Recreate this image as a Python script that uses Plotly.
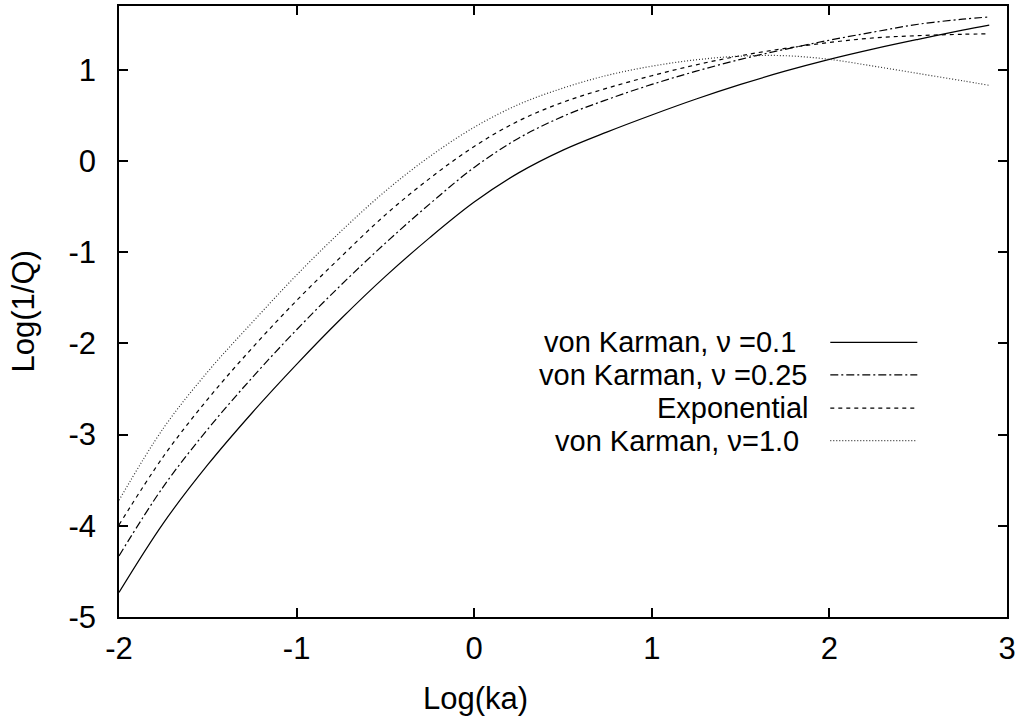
import plotly.graph_objects as go

# ---- data ----
log_ka = [-2.0, -1.75, -1.5, -1.25, -1.0, -0.75, -0.5, -0.25, 0.0, 0.25, 0.5,
          0.75, 1.0, 1.25, 1.5, 1.75, 2.0, 2.25, 2.5, 2.75, 2.9]
vk_01 = [-4.73, -3.97, -3.33, -2.76, -2.23, -1.73, -1.265, -0.84, -0.45, -0.13, 0.12,
         0.32, 0.505, 0.68, 0.84, 0.985, 1.115, 1.23, 1.335, 1.435, 1.49]
vk_025 = [-4.33, -3.57, -2.94, -2.375, -1.85, -1.36, -0.90, -0.47, -0.07, 0.25, 0.49,
          0.675, 0.84, 0.985, 1.115, 1.225, 1.325, 1.415, 1.50, 1.555, 1.58]
expo = [-3.99, -3.24, -2.61, -2.05, -1.53, -1.05, -0.59, -0.19, 0.16, 0.44, 0.645,
        0.80, 0.935, 1.055, 1.155, 1.235, 1.30, 1.35, 1.375, 1.39, 1.395]
vk_10 = [-3.72, -2.93, -2.31, -1.77, -1.25, -0.77, -0.33, 0.05, 0.37, 0.62, 0.80,
         0.94, 1.04, 1.11, 1.15, 1.155, 1.115, 1.04, 0.96, 0.88, 0.83]

series_names = ["von Karman, \u03bd =0.1", "von Karman, \u03bd =0.25",
                "Exponential", "von Karman, \u03bd=1.0"]
series_values = [vk_01, vk_025, expo, vk_10]
series_dash = ["solid", "8px,3px,2px,3px", "4px,4px", "1px,2px"]
series_color = ["#000000", "#000000", "#000000", "#333333"]

x_tickvals = [-2, -1, 0, 1, 2, 3]
x_ticktext = ["-2", "-1", "0", "1", "2", "3"]
y_tickvals = [-5, -4, -3, -2, -1, 0, 1]
y_ticktext = ["-5", "-4", "-3", "-2", "-1", "0", "1"]

FONT = "Liberation Sans, Arial, Helvetica, sans-serif"
FS = 31
FS_KEY = 29

fig = go.Figure()
for name, vals, dash, col in zip(series_names, series_values, series_dash, series_color):
    fig.add_trace(go.Scatter(
        x=log_ka, y=vals, mode="lines", name=name,
        line=dict(color=col, width=1.2, dash=dash, shape="spline", smoothing=1.0),
        showlegend=False,
    ))

# gnuplot-style key: right-aligned text, sample line to its right
legend_rows_y = [0.4494, 0.3964, 0.3418, 0.2887]
legend_text_right = [0.764, 0.776, 0.778, 0.767]
for name, dash, col, yy, xr in zip(series_names, series_dash, series_color,
                                   legend_rows_y, legend_text_right):
    fig.add_annotation(x=xr, y=yy, xref="paper", yref="paper", text=name,
                       showarrow=False, xanchor="right", yanchor="middle", borderpad=0,
                       font=dict(family=FONT, size=FS_KEY, color="black"))
    fig.add_shape(type="line", xref="paper", yref="paper",
                  x0=0.801, x1=0.899, y0=yy, y1=yy,
                  line=dict(color=col, width=1.2, dash=dash))

axis_common = dict(
    showline=True, linecolor="black", linewidth=1.5, mirror="ticks",
    ticks="inside", ticklen=9, tickwidth=1.5, tickcolor="black",
    showgrid=False, zeroline=False,
    tickfont=dict(family=FONT, size=FS, color="black"),
)

fig.update_xaxes(range=[-2, 3], tickmode="array", tickvals=x_tickvals,
                 ticktext=x_ticktext, ticklabelstandoff=3, **axis_common)
fig.update_yaxes(range=[-5, 1.7], tickmode="array", tickvals=y_tickvals,
                 ticktext=y_ticktext, ticklabelstandoff=15, **axis_common)

fig.add_annotation(x=0.402, y=-0.134, xref="paper", yref="paper", text="Log(ka)",
                   showarrow=False, xanchor="center", yanchor="middle",
                   font=dict(family=FONT, size=FS, color="black"))
fig.add_annotation(x=-0.107, y=0.5, xref="paper", yref="paper", text="Log(1/Q)",
                   showarrow=False, xanchor="center", yanchor="middle", textangle=-90,
                   font=dict(family=FONT, size=FS, color="black"))

fig.update_layout(
    width=1020, height=722,
    margin=dict(l=119, r=11, t=4, b=105),
    plot_bgcolor="white", paper_bgcolor="white",
    font=dict(family=FONT, size=FS, color="black"),
)

fig.write_html("out.html")
